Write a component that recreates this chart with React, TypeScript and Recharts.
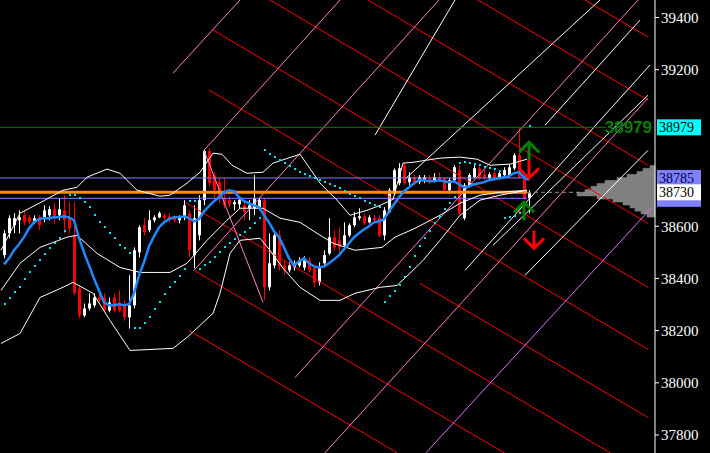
import React from "react";
import {
  Bar,
  ComposedChart,
  Line,
  ReferenceArea,
  ReferenceLine,
  Scatter,
  XAxis,
  YAxis,
} from "recharts";

// candle OHLC, one bar per index
const opens = [38489, 38573, 38604, 38623, 38642, 38634, 38615, 38634, 38634, 38642, 38665, 38642, 38661, 38631, 38565, 38362, 38258, 38285, 38297, 38327, 38327, 38277, 38327, 38308, 38297, 38251, 38297, 38500, 38604, 38585, 38623, 38634, 38642, 38638, 38634, 38623, 38634, 38650, 38489, 38565, 38700, 38888, 38795, 38769, 38707, 38700, 38684, 38684, 38680, 38669, 38669, 38673, 38700, 38366, 38450, 38565, 38450, 38431, 38442, 38450, 38442, 38469, 38439, 38385, 38458, 38496, 38558, 38546, 38527, 38565, 38604, 38631, 38638, 38615, 38631, 38631, 38565, 38654, 38726, 38765, 38834, 38769, 38788, 38769, 38776, 38784, 38776, 38788, 38784, 38738, 38776, 38815, 38631, 38757, 38788, 38822, 38799, 38784, 38803, 38788, 38796, 38796, 38822, 38872, 38788, 38707];
const highs = [38585, 38642, 38650, 38661, 38661, 38642, 38642, 38642, 38680, 38677, 38688, 38707, 38719, 38692, 38692, 38373, 38304, 38343, 38343, 38343, 38343, 38327, 38343, 38354, 38316, 38412, 38519, 38604, 38631, 38661, 38642, 38657, 38650, 38650, 38642, 38642, 38700, 38661, 38680, 38719, 38895, 38899, 38807, 38784, 38784, 38715, 38700, 38707, 38700, 38700, 38796, 38711, 38707, 38573, 38577, 38585, 38469, 38462, 38469, 38481, 38485, 38481, 38450, 38462, 38508, 38631, 38585, 38596, 38615, 38611, 38654, 38669, 38650, 38642, 38642, 38642, 38673, 38746, 38822, 38842, 38845, 38807, 38796, 38796, 38796, 38796, 38803, 38807, 38788, 38784, 38834, 38834, 38765, 38803, 38834, 38830, 38815, 38807, 38815, 38815, 38826, 38838, 38880, 38980, 38796, 38738];
const lows = [38477, 38554, 38573, 38573, 38604, 38608, 38608, 38585, 38615, 38623, 38611, 38623, 38573, 38573, 38335, 38247, 38251, 38277, 38289, 38308, 38270, 38270, 38270, 38270, 38239, 38208, 38285, 38481, 38565, 38577, 38615, 38631, 38623, 38615, 38615, 38611, 38623, 38481, 38439, 38546, 38680, 38753, 38707, 38688, 38669, 38673, 38661, 38669, 38623, 38623, 38642, 38661, 38316, 38354, 38439, 38431, 38412, 38423, 38431, 38442, 38431, 38423, 38366, 38373, 38442, 38489, 38508, 38496, 38508, 38558, 38596, 38623, 38604, 38611, 38611, 38558, 38546, 38650, 38719, 38757, 38757, 38757, 38757, 38761, 38765, 38761, 38769, 38769, 38730, 38726, 38769, 38642, 38623, 38749, 38784, 38776, 38776, 38776, 38776, 38780, 38788, 38788, 38815, 38784, 38700, 38650];
const closes = [38573, 38631, 38631, 38634, 38615, 38615, 38631, 38604, 38661, 38665, 38631, 38665, 38623, 38592, 38343, 38258, 38285, 38304, 38327, 38316, 38277, 38308, 38277, 38277, 38251, 38297, 38508, 38596, 38577, 38623, 38634, 38650, 38631, 38627, 38623, 38634, 38680, 38508, 38631, 38700, 38888, 38765, 38738, 38711, 38680, 38684, 38692, 38700, 38654, 38680, 38707, 38700, 38366, 38458, 38565, 38446, 38431, 38450, 38458, 38469, 38469, 38431, 38385, 38442, 38489, 38558, 38519, 38519, 38565, 38604, 38634, 38638, 38611, 38634, 38623, 38565, 38661, 38738, 38815, 38822, 38765, 38788, 38769, 38788, 38788, 38772, 38788, 38776, 38738, 38776, 38826, 38650, 38757, 38796, 38822, 38784, 38784, 38799, 38784, 38803, 38815, 38826, 38872, 38788, 38707, 38726];

// blue moving average, one value per candle
const maValues = [38454, 38477, 38508, 38531, 38558, 38592, 38615, 38627, 38631, 38631, 38634, 38634, 38638, 38634, 38623, 38554, 38500, 38450, 38400, 38354, 38308, 38297, 38297, 38301, 38297, 38301, 38343, 38412, 38462, 38523, 38561, 38596, 38615, 38627, 38634, 38634, 38638, 38631, 38619, 38627, 38657, 38677, 38696, 38711, 38730, 38738, 38734, 38711, 38696, 38688, 38680, 38673, 38642, 38615, 38581, 38558, 38519, 38477, 38450, 38466, 38477, 38458, 38446, 38442, 38446, 38458, 38473, 38489, 38512, 38535, 38558, 38573, 38588, 38600, 38615, 38619, 38627, 38657, 38684, 38711, 38734, 38749, 38765, 38776, 38776, 38772, 38772, 38776, 38772, 38769, 38772, 38761, 38749, 38753, 38761, 38765, 38769, 38776, 38780, 38784, 38788, 38792, 38803, 38807, 38788, 38776];

// parabolic SAR dots, one per candle (null = hidden)
const sarValues = [38301, 38324, 38347, 38366, 38396, 38423, 38446, 38469, 38492, 38515, 38535, 38554, 38581, 38719, 38719, 38707, 38692, 38673, 38642, 38615, 38596, 38573, 38554, 38527, 38515, 38496, 38209, 38209, 38228, 38254, 38281, 38308, 38339, 38366, 38385, 38408, 38435, 38696, 38696, 38435, 38450, 38462, 38481, 38500, 38519, 38535, 38550, 38565, 38577, 38592, 38611, 38631, 38891, 38876, 38865, 38853, 38842, 38830, 38819, 38807, 38799, 38792, 38784, 38776, 38769, 38761, 38753, 38746, 38734, 38723, 38715, 38707, 38696, 38688, 38680, 38673, 38308, 38331, 38350, 38373, 38404, 38442, 38485, 38523, 38554, 38581, 38611, 38634, 38665, 38688, 38711, 38842, 38845, 38842, 38838, 38834, 38826, 38822, 38819, 38811, 38631, 38634, 38638, 38650, null, 38984];

// bollinger bands, read at selected positions [index, price]
const bbUpper = [[-0.6, 38508], [3.2, 38650], [7.8, 38696], [11.8, 38738], [14.6, 38749], [16.6, 38788], [20.6, 38819], [23.2, 38803], [26.6, 38738], [31.2, 38715], [33.2, 38719], [36.6, 38765], [39.2, 38807], [41.8, 38880], [43.6, 38876], [45.6, 38834], [48.6, 38803], [51.8, 38807], [53.8, 38842], [59.2, 38876], [63.2, 38765], [66.6, 38700], [69.2, 38642], [72.6, 38661], [75.2, 38680], [77.8, 38703], [79.8, 38842], [81.8, 38845], [87.2, 38861], [91.2, 38865], [94.6, 38857], [97.2, 38834], [101.2, 38838], [104.6, 38857]];
const bbMiddle = [[-0.6, 38354], [3.2, 38458], [7.2, 38519], [12.6, 38558], [14.6, 38565], [18.6, 38496], [23.2, 38442], [27.2, 38423], [33.2, 38423], [36.6, 38458], [40.6, 38546], [44.6, 38623], [47.2, 38669], [51.8, 38669], [55.2, 38631], [59.2, 38615], [62.6, 38573], [65.8, 38535], [70.2, 38508], [75.6, 38519], [78.2, 38558], [82.2, 38592], [87.2, 38642], [91.2, 38688], [95.2, 38719], [99.2, 38730], [104.6, 38738]];
const bbLower = [[-0.6, 38151], [3.2, 38189], [7.2, 38327], [11.8, 38366], [13.8, 38385], [17.8, 38343], [21.2, 38239], [25.2, 38124], [33.8, 38132], [36.6, 38174], [41.8, 38266], [43.2, 38343], [45.2, 38496], [47.2, 38546], [51.2, 38554], [53.2, 38508], [55.8, 38439], [59.2, 38366], [63.2, 38316], [67.2, 38316], [70.2, 38343], [75.2, 38366], [78.6, 38373], [81.2, 38420], [83.8, 38469], [87.2, 38546], [91.2, 38642], [95.2, 38700], [99.2, 38719], [104.6, 38738]];

// drawn lines [index1, price1, index2, price2]
const redLines = [
  [53.2, 39467, 128.8, 38611],
  [72.8, 39467, 128.8, 38834],
  [94.8, 39467, 128.8, 39083],
  [116.2, 39467, 128.8, 39325],
  [41.8, 39352, 128.8, 38366],
  [41, 39122, 128.8, 38128],
  [36.2, 38692, 121.2, 37732],
  [38, 38431, 100, 37732],
  [37, 38201, 78.6, 37732],
  [83.2, 38381, 128.8, 37867],
];
const pinkLines = [
  [33.8, 39187, 47.2, 39467],
  [40, 38891, 67.2, 39467],
  [38, 38431, 87, 39467],
  [40, 38891, 51.8, 38308],
  [58.2, 38020, 126.8, 39467],
  [64.2, 37732, 128.8, 39091],
];
const violetLines = [[84.4, 37732, 129.6, 38673]];
const whiteLines = [
  [74.2, 38949, 90.2, 39467],
  [80.4, 38784, 119.2, 39467],
  [92.2, 38431, 129.2, 39218],
  [97.8, 38527, 128.8, 39102],
  [104.2, 38412, 128.8, 38891],
  [108.2, 38987, 127.2, 39390],
];

// volume profile [price, size]
const profile = [[38826, 1], [38815, 2.4], [38803, 3.6], [38792, 5.6], [38780, 7.6], [38769, 10], [38757, 11.6], [38746, 12.8], [38734, 14], [38723, 15.6], [38711, 11.6], [38700, 8.4], [38688, 6.4], [38677, 5], [38665, 4], [38654, 2.8], [38642, 1.6]];

// signal arrows
const arrows = [
  { i: 105, v: 38922, dir: "up", color: "#008000" },
  { i: 105, v: 38784, dir: "down", color: "#ff0000" },
  { i: 104, v: 38692, dir: "up", color: "#008000" },
  { i: 106, v: 38515, dir: "down", color: "#ff0000" },
];

const yTicks = [37800, 38000, 38200, 38400, 38600, 39200, 39400];

const X_MIN = -0.8;
const X_MAX = 130.2;
const Y_MIN = 37731;
const Y_MAX = 39467;

const candles = opens.map((o, i) => ({
  i,
  o,
  h: highs[i],
  l: lows[i],
  c: closes[i],
  ma: maValues[i],
}));

const sarPoints = sarValues
  .map((v, i) => ({ i, v }))
  .filter((d) => d.v !== null);

const toPoints = (rows: number[][]) => rows.map(([i, v]) => ({ i, v }));

const Candle = (props: any) => {
  const { x, y, width, height, payload } = props;
  if (x == null || y == null) return null;
  const top = Math.min(y, y + height);
  const bottom = Math.max(y, y + height);
  const span = payload.h - payload.l || 1;
  const px = (v: number) => top + ((payload.h - v) / span) * (bottom - top);
  const cx = Math.round(x + width / 2);
  const up = payload.c >= payload.o;
  const color = up ? "#ffffff" : "#ff0000";
  const bodyTop = px(Math.max(payload.o, payload.c));
  const bodyBottom = px(Math.min(payload.o, payload.c));
  return (
    <g>
      <rect x={cx} y={top} width={1} height={Math.max(1, bottom - top)} fill={color} />
      <rect
        x={cx - 1}
        y={bodyTop}
        width={3}
        height={Math.max(1, bodyBottom - bodyTop)}
        fill={color}
      />
    </g>
  );
};

const SarDot = (props: any) => {
  const { cx, cy } = props;
  if (cx == null) return null;
  return <rect x={Math.round(cx)} y={Math.round(cy) - 1} width={2} height={2} fill="#00e5ee" />;
};

const Arrow = (props: any) => {
  const { cx, cy, payload } = props;
  if (cx == null) return null;
  const s = payload.dir === "up" ? 1 : -1;
  const d = `M${cx - 10},${cy + 10 * s} L${cx},${cy} L${cx + 10},${cy + 10 * s} M${cx},${cy} L${cx},${cy + 18 * s}`;
  return <path d={d} stroke={payload.color} strokeWidth={3} fill="none" />;
};

const PriceTag = (props: any) => {
  const { viewBox, text, bg, fg } = props;
  if (!viewBox) return null;
  const left = viewBox.x + viewBox.width + 2;
  return (
    <g>
      <rect x={left} y={viewBox.y - 8} width={44} height={16} fill={bg} />
      {text ? (
        <text x={left + 2} y={viewBox.y + 5} fill={fg} fontSize={14} fontFamily="Liberation Serif">
          {text}
        </text>
      ) : null}
    </g>
  );
};

const GreenTag = (props: any) => {
  const { viewBox } = props;
  if (!viewBox) return null;
  const left = viewBox.x + viewBox.width + 2;
  return (
    <g>
      <text
        x={viewBox.x + viewBox.width - 3}
        y={viewBox.y + 6}
        fill="#008000"
        fontSize={17}
        fontWeight="bold"
        fontFamily="Liberation Sans"
        textAnchor="end"
      >
        38979
      </text>
      <rect x={left} y={viewBox.y - 8} width={44} height={16} fill="#00ffff" />
      <text x={left + 2} y={viewBox.y + 5} fill="#000" fontSize={14} fontFamily="Liberation Serif">
        38979
      </text>
    </g>
  );
};

const seg = (r: number[]) => [
  { x: r[0], y: r[1] },
  { x: r[2], y: r[3] },
];

export default function App() {
  return (
    <div style={{ position: "absolute", left: 0, top: 0, width: 710, height: 453, background: "#000" }}>
      <ComposedChart
        width={710}
        height={453}
        data={candles}
        margin={{ top: 0, right: 0, bottom: 0, left: 0 }}
      >
        <XAxis dataKey="i" type="number" domain={[X_MIN, X_MAX]} hide allowDataOverflow />
        <YAxis
          orientation="right"
          domain={[Y_MIN, Y_MAX]}
          ticks={yTicks}
          width={55}
          allowDataOverflow
          axisLine={{ stroke: "#ffffff" }}
          tickLine={{ stroke: "#ffffff" }}
          tickSize={4}
          tickMargin={2}
          tick={{ fill: "#ffffff", fontSize: 15, fontFamily: "Liberation Serif" }}
        />

        {redLines.map((r, k) => (
          <ReferenceLine key={`r${k}`} segment={seg(r)} stroke="#ff0000" ifOverflow="hidden" />
        ))}
        {pinkLines.map((r, k) => (
          <ReferenceLine key={`p${k}`} segment={seg(r)} stroke="#ff80c0" ifOverflow="hidden" />
        ))}
        {violetLines.map((r, k) => (
          <ReferenceLine key={`v${k}`} segment={seg(r)} stroke="#e070ff" ifOverflow="hidden" />
        ))}
        {whiteLines.map((r, k) => (
          <ReferenceLine key={`w${k}`} segment={seg(r)} stroke="#ffffff" ifOverflow="hidden" />
        ))}

        {profile.map(([p, size], k) => (
          <ReferenceArea
            key={`vp${k}`}
            x1={X_MAX - size}
            x2={X_MAX}
            y1={p - 7}
            y2={p + 7}
            fill="#808080"
            fillOpacity={1}
            stroke="#808080"
            strokeWidth={0.5}
            ifOverflow="visible"
          />
        ))}

        <ReferenceLine segment={[{ x: X_MIN, y: 38979 }, { x: 120.4, y: 38979 }]} stroke="#008000" />
        <ReferenceLine segment={[{ x: X_MIN, y: 38785 }, { x: 104.6, y: 38785 }]} stroke="#8080ff" />
        <ReferenceLine segment={[{ x: X_MIN, y: 38707 }, { x: 104.6, y: 38707 }]} stroke="#8080ff" />
        <ReferenceLine
          segment={[{ x: X_MIN, y: 38730 }, { x: 104.6, y: 38730 }]}
          stroke="#ff8c00"
          strokeWidth={3}
        />
        <ReferenceLine
          segment={[{ x: 104.6, y: 38730 }, { x: 120, y: 38730 }]}
          stroke="#909090"
          strokeDasharray="4 3"
        />

        <Line data={toPoints(bbUpper)} dataKey="v" stroke="#ffffff" strokeWidth={1} dot={false} activeDot={false} isAnimationActive={false} />
        <Line data={toPoints(bbMiddle)} dataKey="v" stroke="#ffffff" strokeWidth={1} dot={false} activeDot={false} isAnimationActive={false} />
        <Line data={toPoints(bbLower)} dataKey="v" stroke="#ffffff" strokeWidth={1} dot={false} activeDot={false} isAnimationActive={false} />

        <Bar
          dataKey={(d: any) => [d.l, d.h]}
          barSize={3}
          shape={<Candle />}
          isAnimationActive={false}
        />
        <Line dataKey="ma" stroke="#1e88ff" strokeWidth={2.5} dot={false} activeDot={false} isAnimationActive={false} />
        <Scatter data={sarPoints} dataKey="v" shape={<SarDot />} isAnimationActive={false} />
        <Scatter data={arrows} dataKey="v" shape={<Arrow />} isAnimationActive={false} />

        <ReferenceLine y={38979} stroke="none" label={<GreenTag />} />
        <ReferenceLine y={38705} stroke="none" label={<PriceTag text="" bg="#8080ff" fg="#000" />} />
        <ReferenceLine y={38785} stroke="none" label={<PriceTag text="38785" bg="#8080ff" fg="#000040" />} />
        <ReferenceLine y={38730} stroke="none" label={<PriceTag text="38730" bg="#ffffff" fg="#000" />} />
      </ComposedChart>
    </div>
  );
}
